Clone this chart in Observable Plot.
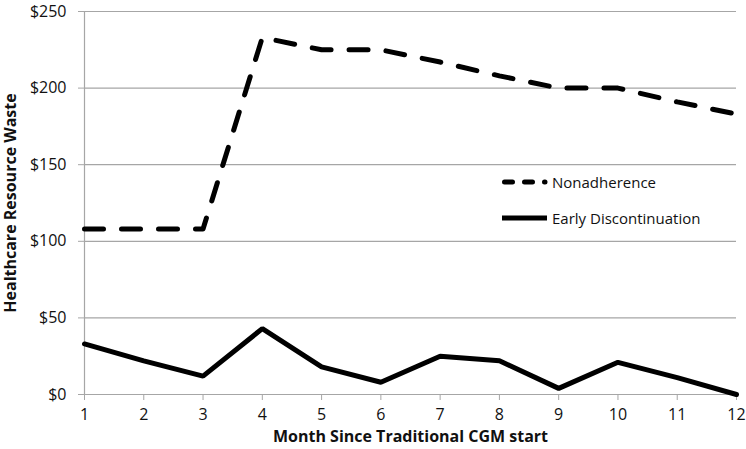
<!DOCTYPE html>
<html>
<head>
<meta charset="utf-8">
<script src="https://cdn.jsdelivr.net/npm/d3@7"></script>
<script src="https://cdn.jsdelivr.net/npm/@observablehq/plot@0.6"></script>
<style>
  html, body { margin: 0; padding: 0; background: #fff; }
  #wrap { position: relative; width: 746px; height: 449px; font-family: "Open Sans", sans-serif; }
  .legend { position: absolute; left: 500px; top: 164px; font-size: 15px; color: #111; }
  .legend .item { display: flex; align-items: center; height: 36px; }
  .legend svg { margin-right: 3px; }
</style>
</head>
<body>
<div id="wrap"></div>
<script>
const months = [1, 2, 3, 4, 5, 6, 7, 8, 9, 10, 11, 12];
const nonadherence = [108, 108, 108, 233, 225, 225, 217, 208, 200, 200, 191, 183];
const earlyDiscontinuation = [33, 22, 12, 43, 18, 8, 25, 22, 4, 21, 11, 0];
const seriesNames = ["Nonadherence", "Early Discontinuation"];
const yTicks = [0, 50, 100, 150, 200, 250];

const data = [];
months.forEach((m, i) => {
  data.push({month: m, value: nonadherence[i], series: seriesNames[0]});
  data.push({month: m, value: earlyDiscontinuation[i], series: seriesNames[1]});
});

const grid = "#a6a6a6";
const chart = Plot.plot({
  width: 746,
  height: 449,
  marginLeft: 84,
  marginRight: 10,
  marginTop: 11,
  marginBottom: 55,
  style: {fontFamily: "Open Sans, sans-serif", fontSize: "16px", color: "#111", background: "#fff"},
  x: {domain: [1, 12]},
  y: {domain: [0, 250]},
  marks: [
    Plot.ruleY(yTicks.filter(d => d > 0), {stroke: grid, strokeWidth: 1.2}),
    Plot.ruleY([0], {stroke: grid, strokeWidth: 1.2}),
    Plot.ruleX([1], {stroke: grid, strokeWidth: 1.2}),
    Plot.axisX({
      ticks: months, tickFormat: d => String(d), tickSize: 6, tickPadding: 8,
      stroke: grid, fontSize: 16,
      label: null
    }),
    Plot.axisY({
      ticks: yTicks, tickFormat: d => "$" + d, tickSize: 6, tickPadding: 12,
      stroke: grid, fontSize: 16,
      label: null
    }),
    Plot.text(["Month Since Traditional CGM start"], {
      frameAnchor: "bottom", dy: 47, fontWeight: "bold", fontSize: 16, fill: "#111"
    }),
    Plot.text(["Healthcare Resource Waste"], {
      frameAnchor: "left", dx: -74, rotate: -90, textAnchor: "middle",
      fontWeight: "bold", fontSize: 16, fill: "#111"
    }),
    Plot.line(data.filter(d => d.series === seriesNames[0]), {
      x: "month", y: "value", stroke: "#000", strokeWidth: 5,
      strokeDasharray: "19,18", strokeLinecap: "round", strokeLinejoin: "round"
    }),
    Plot.line(data.filter(d => d.series === seriesNames[1]), {
      x: "month", y: "value", stroke: "#000", strokeWidth: 5,
      strokeLinejoin: "miter"
    })
  ]
});
const wrap = document.getElementById("wrap");
wrap.appendChild(chart);

const legend = document.createElement("div");
legend.className = "legend";
legend.innerHTML = `
  <div class="item"><svg width="49" height="8"><line x1="4.5" y1="4" x2="45" y2="4" stroke="#000" stroke-width="5" stroke-linecap="round" stroke-dasharray="8,12"/></svg><span>${seriesNames[0]}</span></div>
  <div class="item"><svg width="49" height="8"><line x1="2" y1="4" x2="47" y2="4" stroke="#000" stroke-width="5" stroke-linecap="butt"/></svg><span>${seriesNames[1]}</span></div>`;
wrap.appendChild(legend);
</script>
</body>
</html>
